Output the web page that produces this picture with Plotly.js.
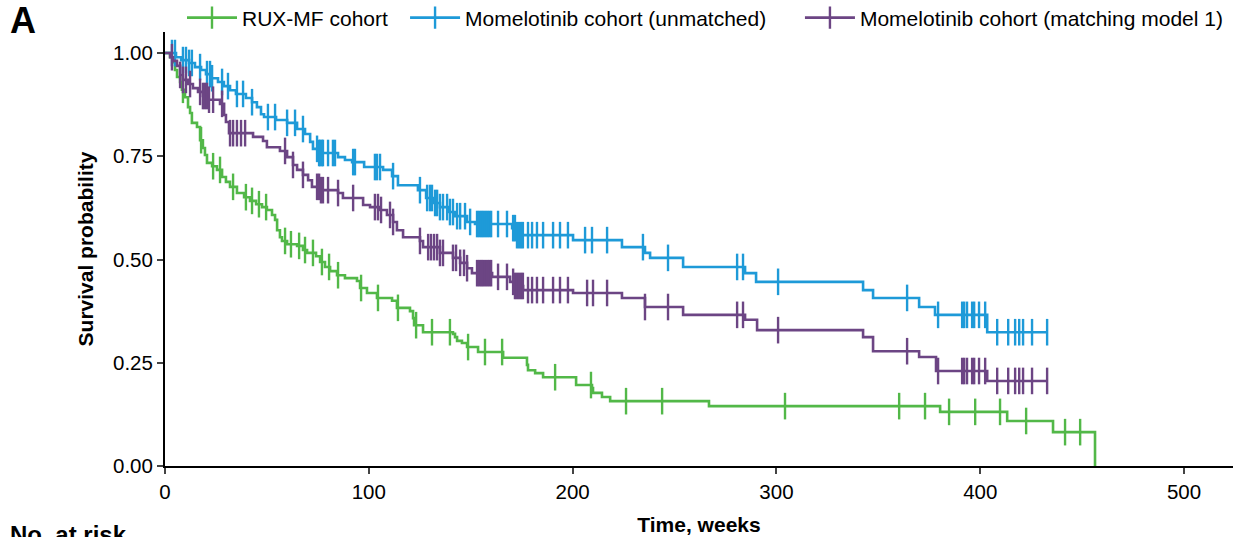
<!DOCTYPE html>
<html><head><meta charset="utf-8">
<script src="https://cdn.plot.ly/plotly-3.0.1.min.js"></script>
<style>html,body{margin:0;padding:0;background:#fff;}#chart{width:1256px;height:537px;}</style>
</head><body><div id="chart"></div>
<script>
const seriesNames = ["RUX-MF cohort", "Momelotinib cohort (unmatched)", "Momelotinib cohort (matching model 1)"];
const seriesColors = ["#52b848", "#1e9ad8", "#6c4584"];

// RUX-MF cohort
const ruxTimes = [2.5,3.9,4.9,5.9,7.4,8.3,9.8,11.3,12.3,13.2,15.7,17.2,18.6,19.6,20.6,23.1,25.5,28.0,29.9,31.9,35.3,38.8,41.7,44.7,47.6,50.0,52.5,54.0,55.0,56.4,57.4,59.9,64.8,67.7,69.7,74.1,76.1,78.5,81.0,84.4,88.3,94.2,95.7,99.1,104.0,111.4,113.8,120.2,121.7,122.2,126.6,141.3,142.3,143.3,145.7,148.2,153.6,165.9,177.6,178.1,181.6,185.5,201.7,209.5,210.0,214.4,218.4,266.9,380.3,413.2,435.7,456.3];
const ruxSurv = [0.990,0.978,0.959,0.942,0.930,0.911,0.893,0.869,0.855,0.831,0.821,0.789,0.770,0.753,0.734,0.726,0.717,0.700,0.688,0.676,0.661,0.651,0.642,0.634,0.627,0.620,0.608,0.596,0.571,0.554,0.545,0.537,0.533,0.523,0.516,0.508,0.494,0.482,0.472,0.462,0.455,0.448,0.431,0.419,0.407,0.400,0.383,0.375,0.358,0.341,0.324,0.320,0.312,0.303,0.298,0.288,0.276,0.262,0.245,0.232,0.225,0.215,0.196,0.189,0.177,0.167,0.157,0.145,0.131,0.109,0.082,0];
const ruxCensor = [8.8,17.7,23.6,27.0,33.4,39.7,42.7,46.1,49.6,58.9,61.8,65.8,68.7,72.6,77.0,80.5,84.9,96.2,104.5,114.3,123.2,131.0,139.8,148.7,157.0,165.4,191.4,209.0,226.2,243.9,304.2,360.2,372.9,384.7,397.5,409.7,422.5,441.6,449.0];

// Momelotinib cohort (unmatched)
const momTimes = [5.4,7.9,11.8,14.7,17.7,20.1,22.6,26.0,28.9,31.9,34.8,39.7,42.7,45.1,47.1,48.6,54.5,59.9,64.8,68.7,71.2,72.6,75.1,84.9,88.3,91.8,97.7,107.0,111.4,114.3,124.1,128.1,131.5,134.9,139.4,142.3,148.2,152.1,170.3,172.7,200.2,224.2,235.5,238.0,254.2,284.6,290.0,342.5,347.4,370.0,377.8,403.4];
const momSurv = [0.990,0.983,0.976,0.966,0.959,0.949,0.939,0.930,0.920,0.910,0.901,0.891,0.881,0.869,0.852,0.845,0.838,0.831,0.816,0.804,0.785,0.768,0.758,0.748,0.741,0.736,0.724,0.717,0.702,0.680,0.668,0.649,0.637,0.627,0.615,0.605,0.591,0.586,0.576,0.559,0.547,0.530,0.516,0.504,0.482,0.467,0.446,0.426,0.407,0.385,0.366,0.324];
const momCensor = [3.4,4.9,8.8,10.3,11.8,13.2,17.2,20.6,22.1,23.1,28.0,30.9,35.3,38.3,42.7,50.5,54.0,59.9,63.8,67.7,74.6,75.6,76.1,77.0,77.5,80.0,82.4,83.4,92.3,93.2,103.0,104.0,105.5,111.9,125.1,128.6,130.0,131.0,132.5,133.5,134.9,136.4,138.4,139.8,141.3,143.3,144.8,147.2,149.7,153.1,154.1,155.1,156.0,157.0,158.0,159.0,160.0,163.4,167.8,170.8,171.7,172.7,173.7,174.7,175.6,178.1,180.1,182.5,185.5,190.4,193.8,197.7,206.1,209.5,216.9,234.5,246.8,280.7,283.6,300.8,364.1,379.3,391.1,392.1,393.5,396.0,397.0,399.4,402.4,408.3,413.7,417.1,419.1,421.0,425.4,432.8];

// Momelotinib cohort (matching model 1)
const matTimes = [2.5,3.9,5.9,7.4,8.8,11.3,13.7,16.2,18.6,21.1,27.0,29.0,29.9,31.4,43.2,48.1,50.0,56.4,59.9,62.8,64.8,67.7,70.2,72.1,76.1,84.9,87.3,97.2,100.6,105.5,108.9,111.9,113.8,116.8,125.1,126.6,134.9,141.3,144.8,148.2,150.6,160.5,169.3,171.7,175.7,200.2,224.2,235.5,254.2,284.6,290.5,342.5,347.4,370.0,378.3,403.4];
const matSurv = [0.990,0.981,0.969,0.947,0.935,0.925,0.915,0.906,0.896,0.887,0.877,0.850,0.833,0.806,0.797,0.787,0.772,0.763,0.748,0.729,0.717,0.705,0.692,0.676,0.668,0.661,0.649,0.632,0.627,0.620,0.608,0.591,0.571,0.554,0.545,0.530,0.516,0.504,0.492,0.479,0.467,0.458,0.446,0.436,0.426,0.419,0.407,0.385,0.366,0.354,0.329,0.312,0.278,0.264,0.230,0.206];
const matCensor = [3.4,7.4,8.8,10.3,12.3,17.2,18.6,19.6,20.6,21.6,23.6,28.0,31.9,33.4,35.3,37.3,39.3,58.9,62.8,67.7,74.6,75.6,76.5,77.5,80.0,84.9,92.3,103.0,104.5,106.0,110.4,111.9,125.1,129.1,130.5,132.0,133.5,134.9,136.4,141.3,142.8,144.8,146.7,148.2,153.1,154.1,155.1,156.0,157.0,158.0,159.0,160.0,163.4,167.8,170.8,171.7,172.7,173.7,174.7,175.6,178.1,180.1,182.5,185.5,190.4,193.8,197.7,207.1,210.0,216.9,235.5,246.8,280.7,283.6,300.8,364.1,379.3,391.1,392.1,393.5,396.0,397.0,399.4,402.4,408.3,413.7,417.1,419.1,421.0,425.4,432.8];

const xTickVals = [0, 100, 200, 300, 400, 500];
const yTickVals = [0, 0.25, 0.5, 0.75, 1.0];

const groups = [
  {times: ruxTimes, surv: ruxSurv, censor: ruxCensor},
  {times: momTimes, surv: momSurv, censor: momCensor},
  {times: matTimes, surv: matSurv, censor: matCensor}
];
const legendIds = ["legend", "legend2", "legend3"];

function survAt(times, surv, t) {
  let s = 1;
  for (let i = 0; i < times.length; i++) { if (times[i] <= t) s = surv[i]; }
  return s;
}

const traces = [];
groups.forEach((g, k) => {
  const lastT = Math.max(g.times[g.times.length - 1], Math.max(...g.censor));
  const xs = [0].concat(g.times);
  const ys = [1].concat(g.surv);
  if (lastT > g.times[g.times.length - 1]) { xs.push(lastT); ys.push(g.surv[g.surv.length - 1]); }
  traces.push({
    type: "scatter", mode: "lines", x: xs, y: ys,
    line: {shape: "hv", color: seriesColors[k], width: 2.6},
    showlegend: false, hoverinfo: "skip"
  });
  traces.push({
    type: "scatter", mode: "markers", x: g.censor,
    y: g.censor.map(t => survAt(g.times, g.surv, t)),
    marker: {symbol: "line-ns", size: 19, color: seriesColors[k], line: {color: seriesColors[k], width: 2.4}},
    showlegend: false, hoverinfo: "skip"
  });
});
// legend entries
seriesNames.forEach((name, k) => {
  traces.push({
    type: "scatter", mode: "lines+markers", x: [null], y: [null], name: name,
    line: {color: seriesColors[k], width: 2.6},
    marker: {symbol: "line-ns", size: 22, color: seriesColors[k], line: {color: seriesColors[k], width: 2.4}},
    legend: legendIds[k]
  });
});

const font = {family: "Liberation Sans, Arial, sans-serif", color: "#000"};
const legendBase = {
  orientation: "h", xanchor: "left", yanchor: "middle", xref: "container", yref: "container", y: 0.9665,
  bgcolor: "rgba(0,0,0,0)", borderwidth: 0,
  font: Object.assign({}, font, {size: 21}), itemwidth: 50
};
const layout = {
  width: 1256, height: 537,
  margin: {l: 165, r: 23, t: 32, b: 71, autoexpand: false},
  paper_bgcolor: "#fff", plot_bgcolor: "#fff",
  font: font,
  xaxis: {
    range: [0, 524], tickvals: xTickVals, ticks: "outside", ticklen: 6, tickwidth: 2,
    showline: true, linewidth: 2, linecolor: "#000", showgrid: false, zeroline: false,
    tickfont: Object.assign({}, font, {size: 20.5}),
    title: {text: "Time, weeks", font: Object.assign({}, font, {size: 21, weight: 700}), standoff: 16}
  },
  yaxis: {
    range: [0, 1.051], tickvals: yTickVals, tickformat: ".2f", ticks: "outside", ticklen: 6, tickwidth: 2,
    showline: true, linewidth: 2, linecolor: "#000", showgrid: false, zeroline: false,
    tickfont: Object.assign({}, font, {size: 20.5}),
    title: {text: "Survival probability", font: Object.assign({}, font, {size: 21, weight: 700}), standoff: 14}
  },
  legend: Object.assign({}, legendBase, {x: 0.1449}),
  legend2: Object.assign({}, legendBase, {x: 0.3225}),
  legend3: Object.assign({}, legendBase, {x: 0.6369}),
  annotations: [
    {text: "A", xref: "paper", yref: "paper", x: -0.147, y: 1.078, xanchor: "left", yanchor: "top",
     showarrow: false, font: Object.assign({}, font, {size: 36, weight: 700})},
    {text: "No. at risk", xref: "paper", yref: "paper", x: -0.147, y: -0.158, xanchor: "left", yanchor: "middle",
     showarrow: false, font: Object.assign({}, font, {size: 24, weight: 700})}
  ],
  showlegend: true
};
Plotly.newPlot("chart", traces, layout, {staticPlot: true, displayModeBar: false});
</script></body></html>
